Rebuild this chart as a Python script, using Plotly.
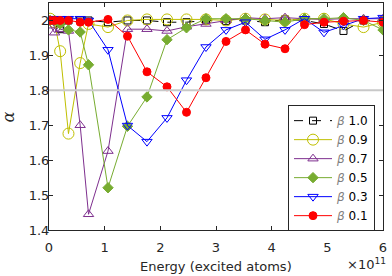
import plotly.graph_objects as go

# Energy (in units of 1e11 excited atoms)
energy = [0.02, 0.1, 0.2, 0.35, 0.56, 0.71, 1.06, 1.41, 1.76, 2.12, 2.47, 2.82,
          3.18, 3.53, 3.88, 4.24, 4.59, 4.94, 5.29, 5.65, 6.0]

beta_labels = ["1.0", "0.9", "0.7", "0.5", "0.3", "0.1"]

alpha_b10 = [2.0, 2.0, 1.975, 2.0, 2.0, 2.0, 1.995, 2.0, 2.0, 1.995, 1.995, 2.0,
             1.998, 2.0, 1.995, 2.003, 2.0, 1.99, 1.97, 2.0, 2.0]
alpha_b09 = [2.005, 1.995, 1.912, 1.676, 1.878, 1.99, 1.981, 2.0, 2.003, 2.003, 2.003, 2.003,
             2.0, 2.005, 2.003, 2.0, 2.005, 2.005, 1.99, 1.981, 1.995]
alpha_b07 = [1.985, 1.965, 1.975, 1.97, 1.70, 1.445, 1.626, 1.975, 1.975, 1.97, 1.982, 1.99,
             2.0, 2.008, 2.005, 2.008, 2.005, 2.003, 2.005, 2.005, 2.005]
alpha_b05 = [2.0, 2.0, 1.99, 1.973, 1.967, 1.873, 1.521, 1.697, 1.781, 1.945, 1.979, 2.005,
             2.005, 2.005, 2.0, 1.995, 2.005, 2.005, 2.008, 2.0, 1.973]
alpha_b03 = [2.005, 2.005, 2.005, 2.005, 2.005, 2.0, 1.916, 1.699, 1.653, 1.721, 1.829, 1.924,
             1.973, 1.995, 1.946, 1.973, 2.005, 1.966, 1.986, 2.005, 2.008]
alpha_b01 = [2.0, 2.0, 2.0, 2.0, 1.995, 1.995, 2.003, 1.955, 1.853, 1.81, 1.737, 1.836,
             1.94, 1.973, 1.932, 1.919, 1.988, 1.995, 1.998, 2.0, 1.995]

threshold = 1.8

series = [alpha_b10, alpha_b09, alpha_b07, alpha_b05, alpha_b03, alpha_b01]
colors = ["#000000", "#bfbf00", "#7e2f8e", "#77ac30", "#0000ff", "#ff0000"]
symbols = ["square-open", "circle-open", "triangle-up-open", "diamond", "triangle-down-open", "circle"]
msizes = [7, 11, 9, 8, 9, 8]
dashes = ["dash", "solid", "solid", "solid", "solid", "solid"]

fig = go.Figure()
for lab, ys, c, s, ms, d in zip(beta_labels, series, colors, symbols, msizes, dashes):
    fig.add_trace(go.Scatter(
        x=energy, y=ys, mode="lines+markers",
        name='<span style="color:#808080"><i>β</i></span> ' + lab,
        line=dict(color=c, width=1, dash=d),
        marker=dict(symbol=s, size=ms, color=c, line=dict(color=c, width=1)),
    ))

fig.add_shape(type="line", xref="paper", x0=0, x1=1, yref="y", y0=threshold, y1=threshold,
              line=dict(color="#c8c8c8", width=2), layer="above")

axis_common = dict(showline=True, linecolor="#262626", linewidth=1, mirror="ticks",
                   ticks="inside", ticklen=4, tickcolor="#262626", showgrid=False,
                   zeroline=False, automargin=False,
                   tickfont=dict(family="DejaVu Sans", size=13, color="#262626"))

fig.update_layout(
    width=392, height=276,
    margin=dict(l=49, r=9, t=3, b=46),
    plot_bgcolor="white", paper_bgcolor="white",
    xaxis=dict(range=[0, 6], tickvals=[0, 1, 2, 3, 4, 5, 6], ticklabelstandoff=5, **axis_common),
    yaxis=dict(range=[1.4, 2.05], tickvals=[1.4, 1.5, 1.6, 1.7, 1.8, 1.9, 2.0],
               ticktext=["1.4", "1.5", "1.6", "1.7", "1.8", "1.9", "2"],
               ticklabelstandoff=-4, **axis_common),
    legend=dict(x=0.7156, y=0.55, xanchor="left", yanchor="top",
                bgcolor="white", bordercolor="#262626", borderwidth=1,
                font=dict(family="DejaVu Sans", size=12, color="#000000"),
                itemwidth=38, tracegroupgap=0, entrywidth=23, entrywidthmode="pixels"),
    showlegend=True,
    annotations=[
        dict(text="Energy (excited atoms)", xref="paper", yref="paper", x=0.5, y=-0.16,
             xanchor="center", yanchor="middle", showarrow=False,
             font=dict(family="DejaVu Sans", size=13, color="#262626")),
        dict(text="×10<sup>11</sup>", xref="paper", yref="paper", x=1.015, y=-0.15,
             xanchor="right", yanchor="middle", showarrow=False,
             font=dict(family="DejaVu Sans", size=13, color="#262626")),
        dict(text="<i>α</i>", xref="paper", yref="paper", x=-0.12, y=0.5,
             xanchor="center", yanchor="middle", showarrow=False, textangle=-90,
             font=dict(family="DejaVu Serif", size=16, color="#262626")),
    ],
)

fig.write_html("out.html", config={"displayModeBar": False},
               post_script="document.body.style.margin='0';")
